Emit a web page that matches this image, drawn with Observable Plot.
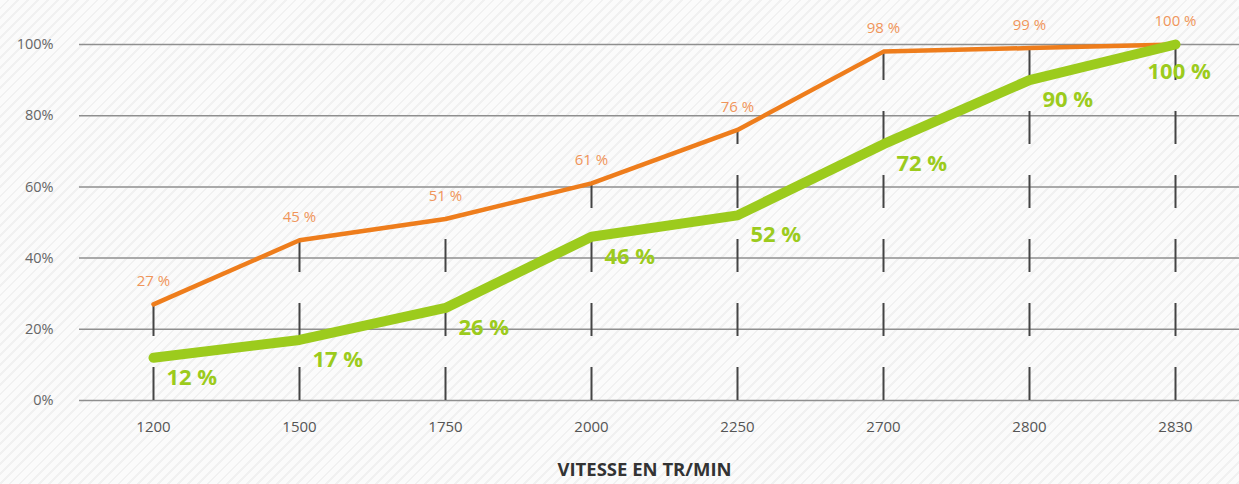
<!DOCTYPE html>
<html>
<head>
<meta charset="utf-8">
<script src="https://cdn.jsdelivr.net/npm/d3@7"></script>
<script src="https://cdn.jsdelivr.net/npm/@observablehq/plot@0.6"></script>
<style>
  html, body { margin: 0; padding: 0; }
  body {
    width: 1239px; height: 484px; overflow: hidden;
    background: repeating-linear-gradient(135deg, #fbfbfb 0px, #fbfbfb 5px, #f1f1f1 5px, #f1f1f1 7px);
  }
  svg { background: transparent !important; }
</style>
</head>
<body>
<div id="chart"></div>
<script>
const rpm = ["1200", "1500", "1750", "2000", "2250", "2700", "2800", "2830"];
const orangeValues = [27, 45, 51, 61, 76, 98, 99, 100];
const greenValues = [12, 17, 26, 46, 52, 72, 90, 100];
const yTicks = [0, 20, 40, 60, 80, 100];
const xTitle = "VITESSE EN TR/MIN";

const data = rpm.map((r, i) => ({rpm: r, orange: orangeValues[i], green: greenValues[i]}));
const greenMain = data.slice(0, -1);
const greenLast = data.slice(-1);

const font = "'Open Sans', sans-serif";

const chart = Plot.plot({
  width: 1239,
  height: 484,
  marginLeft: 79,
  marginRight: 0,
  marginTop: 44,
  marginBottom: 84,
  style: {background: "transparent", fontFamily: font},
  x: {type: "point", domain: rpm, range: [152, 1175], padding: 0},
  y: {domain: [0, 100], range: [400, 44]},
  marks: [
    Plot.ruleY(yTicks, {stroke: "#8f8f8f", strokeWidth: 1.5}),
    Plot.axisY(yTicks, {tickSize: 0, tickPadding: 26, fontSize: 14.5, fill: "#666", tickFormat: d => d + "%", label: null}),
    Plot.axisX({tickSize: 0, tickPadding: 21, fontSize: 15, fill: "#555", label: null}),
    Plot.ruleX(data, {x: "rpm", y1: 0, y2: "orange", stroke: "#444", strokeWidth: 2, strokeDasharray: "33,31"}),
    Plot.line(data, {x: "rpm", y: "orange", stroke: "#ee7d1c", strokeWidth: 4.5, strokeLinejoin: "round"}),
    Plot.line(data, {x: "rpm", y: "green", stroke: "#9ccb1d", strokeWidth: 10, strokeLinecap: "round", strokeLinejoin: "round"}),
    Plot.text(data, {x: "rpm", y: "orange", text: d => d.orange + " %", dy: -23, fill: "#f0955a", fontSize: 15}),
    Plot.text(greenMain, {x: "rpm", y: "green", text: d => d.green + " %", dx: 13, dy: 20, textAnchor: "start", fill: "#9ccb1d", fontSize: 22, fontWeight: "bold"}),
    Plot.text(greenLast, {x: "rpm", y: "green", text: d => d.green + " %", dx: -28, dy: 27, textAnchor: "start", fill: "#9ccb1d", fontSize: 22, fontWeight: "bold"}),
    Plot.text([xTitle], {frameAnchor: "bottom", dx: -15, dy: 75, fill: "#333", fontSize: 18.5, fontWeight: "bold"})
  ]
});
document.getElementById("chart").appendChild(chart);
</script>
</body>
</html>
